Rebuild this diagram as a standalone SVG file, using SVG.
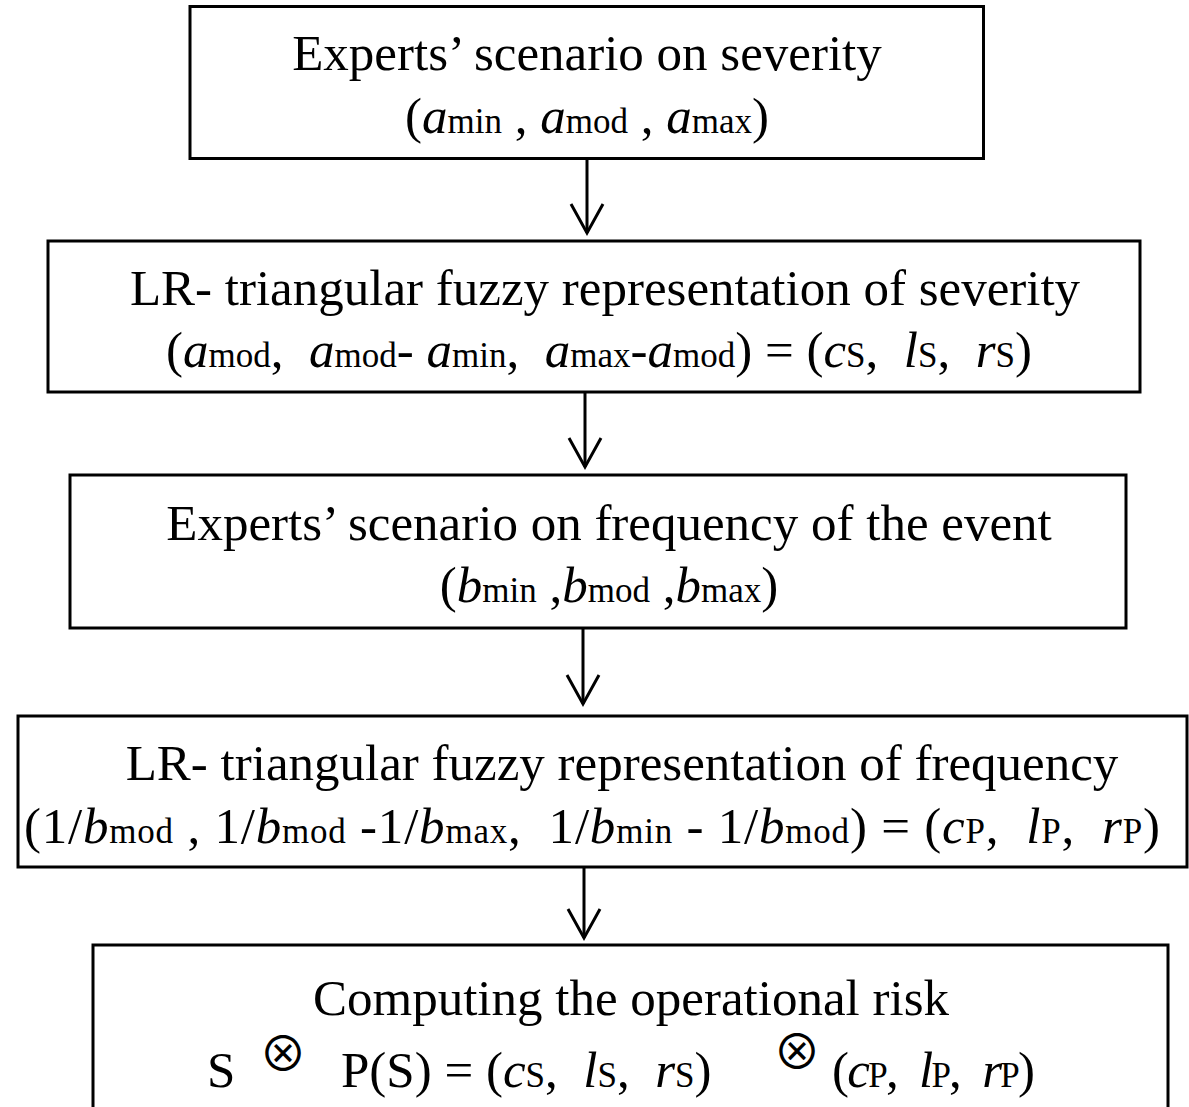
<svg xmlns="http://www.w3.org/2000/svg" width="1189" height="1107" viewBox="0 0 1189 1107">
<style>
.box{fill:#fff;stroke:#000;stroke-width:3}
text{font-family:"Liberation Serif","Times New Roman",serif;font-size:51px;fill:#000;white-space:pre}
.m{text-anchor:middle}
.i{font-style:italic}
.s{font-size:35px}
.conn{stroke:#000;stroke-width:3;fill:none}
.ot{font-family:"Noto Sans CJK JP",sans-serif;font-size:48px;text-anchor:middle}
</style>
<defs>
<marker id="v" markerUnits="userSpaceOnUse" markerWidth="40" markerHeight="40" refX="0" refY="0" viewBox="-32 -20 36 40" orient="auto" overflow="visible">
<path d="M-29,-16 L0,0 L-29,16" fill="none" stroke="#000" stroke-width="3"/>
</marker>
</defs>
<rect width="1189" height="1107" fill="#fff"/>
<g id="n1">
<rect class="box" x="190" y="6.5" width="793.5" height="152"/>
<text class="m" x="587" y="70">Experts’ scenario on severity</text>
<text class="m" x="587" y="133">(<tspan class="i">a</tspan><tspan class="s">min</tspan> , <tspan class="i">a</tspan><tspan class="s">mod</tspan> , <tspan class="i">a</tspan><tspan class="s">max</tspan>)</text>
</g>
<g id="n2">
<rect class="box" x="48" y="241" width="1092" height="151"/>
<text class="m" x="605" y="305">LR- triangular fuzzy representation of severity</text>
<text class="m" x="599" y="367">(<tspan class="i">a</tspan><tspan class="s">mod</tspan>,  <tspan class="i">a</tspan><tspan class="s">mod</tspan>- <tspan class="i">a</tspan><tspan class="s">min</tspan>,  <tspan class="i">a</tspan><tspan class="s">max</tspan>-<tspan class="i">a</tspan><tspan class="s">mod</tspan>) = (<tspan class="i">c</tspan><tspan class="s">S</tspan>,  <tspan class="i">l</tspan><tspan class="s">S</tspan>,  <tspan class="i">r</tspan><tspan class="s">S</tspan>)</text>
</g>
<g id="n3">
<rect class="box" x="70" y="475" width="1056" height="153"/>
<text class="m" x="609" y="540">Experts’ scenario on frequency of the event</text>
<text class="m" x="609" y="602">(<tspan class="i">b</tspan><tspan class="s">min</tspan> ,<tspan class="i">b</tspan><tspan class="s">mod</tspan> ,<tspan class="i">b</tspan><tspan class="s">max</tspan>)</text>
</g>
<g id="n4">
<rect class="box" x="18" y="716" width="1169" height="151"/>
<text class="m" x="622" y="780">LR- triangular fuzzy representation of frequency</text>
<text x="24" y="843" textLength="1136" lengthAdjust="spacing">(1/<tspan class="i">b</tspan><tspan class="s">mod</tspan> , 1/<tspan class="i">b</tspan><tspan class="s">mod</tspan> -1/<tspan class="i">b</tspan><tspan class="s">max</tspan>,  1/<tspan class="i">b</tspan><tspan class="s">min</tspan> - 1/<tspan class="i">b</tspan><tspan class="s">mod</tspan>) = (<tspan class="i">c</tspan><tspan class="s">P</tspan>,  <tspan class="i">l</tspan><tspan class="s">P</tspan>,  <tspan class="i">r</tspan><tspan class="s">P</tspan>)</text>
</g>
<g id="n5">
<rect class="box" x="93" y="945" width="1075" height="200"/>
<text class="m" x="631" y="1015">Computing the operational risk</text>
<text x="207" y="1087">S</text>
<text class="ot" x="283" y="1071">⊗</text>
<text x="341" y="1087">P(S) = (<tspan class="i">c</tspan><tspan class="s">S</tspan>,  <tspan class="i">l</tspan><tspan class="s">S</tspan>,  <tspan class="i">r</tspan><tspan class="s">S</tspan>)</text>
<text class="ot" x="797" y="1069">⊗</text>
<text x="832" y="1087" textLength="203" lengthAdjust="spacing">(<tspan class="i">c</tspan><tspan class="s">P</tspan>,  <tspan class="i">l</tspan><tspan class="s">P</tspan>,  <tspan class="i">r</tspan><tspan class="s">P</tspan>)</text>
</g>
<g id="connectors">
<path class="conn" d="M587,158.5 V233" marker-end="url(#v)"/>
<path class="conn" d="M585,392 V467" marker-end="url(#v)"/>
<path class="conn" d="M583,628 V704" marker-end="url(#v)"/>
<path class="conn" d="M584,867 V938" marker-end="url(#v)"/>
</g>
</svg>
